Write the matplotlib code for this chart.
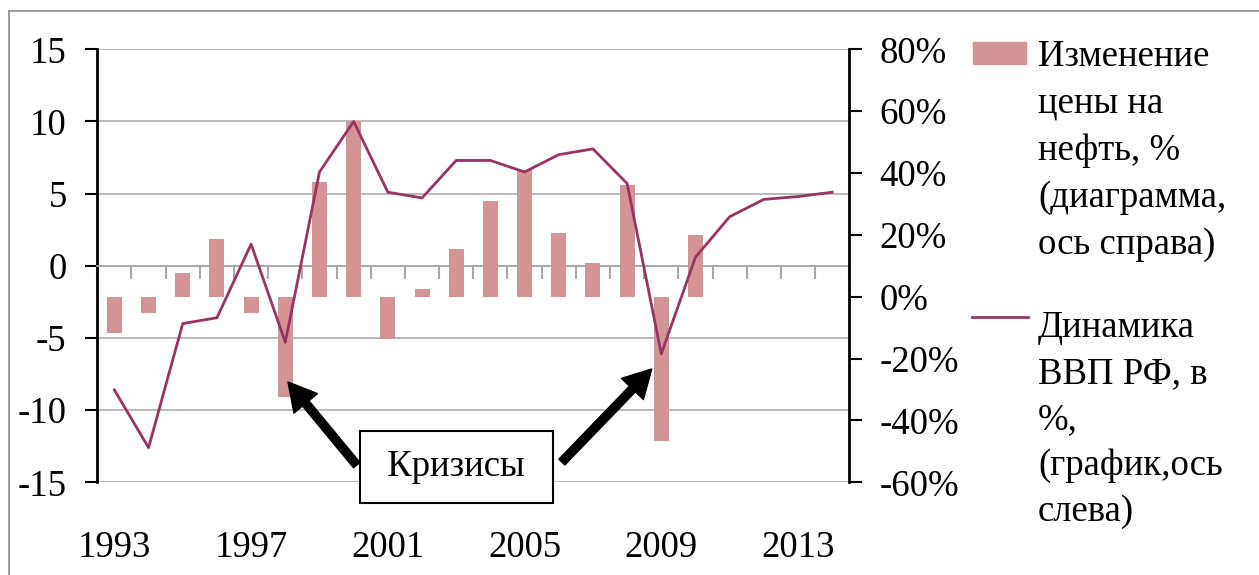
import numpy as np
import matplotlib
matplotlib.use('Agg')
import matplotlib.pyplot as plt
from matplotlib.patches import Rectangle
from matplotlib.lines import Line2D

# data
years = list(range(1993, 2015))
gdp = [-8.6, -12.6, -4.0, -3.6, 1.5, -5.3, 6.5, 10.0, 5.1, 4.7, 7.3,
       7.3, 6.5, 7.7, 8.1, 5.7, -6.1, 0.6, 3.4, 4.6, 4.8, 5.1]
# oil price change, % (1993-2010 only)
oil = [-11.8, -5.3, 7.7, 18.6, -5.3, -32.4, 37.2, 56.7, -13.6, 2.6,
       15.4, 31.0, 41.0, 20.7, 11.0, 36.1, -46.8, 20.0]
year_labels = ['1993', '1997', '2001', '2005', '2009', '2013']
left_ticks = [-15, -10, -5, 0, 5, 10, 15]
right_ticks = [-60, -40, -20, 0, 20, 40, 60, 80]
legend_oil = ['Изменение', 'цены на', 'нефть, %', '(диаграмма,', 'ось справа)']
legend_gdp = ['Динамика', 'ВВП РФ, в', '%,', '(график,ось', 'слева)']
crisis_text = 'Кризисы'

bar_color = '#D29494'
line_color = '#993366'
grid_color = '#A8A8A8'

plt.rcParams['font.family'] = ['Liberation Serif', 'DejaVu Serif']
plt.rcParams['axes.unicode_minus'] = False
plt.rcParams['font.size'] = 26.5

W, H = 1259, 575
fig = plt.figure(figsize=(W / 100, H / 100), dpi=100)
pos = [97.3 / W, 1 - 482.3 / H, 752 / W, 433 / H]

ax = fig.add_axes(pos)          # grid, left axis, category axis
ax2 = ax.twinx()                # bars, right axis
ax3 = fig.add_axes(pos, sharex=ax, sharey=ax)  # line + annotations on top
ax3.set_axis_off()

x = np.arange(len(years))

# left axis
ax.set_xlim(-0.5, len(years) - 0.5)
ax.set_ylim(-15, 15)
ax.set_yticks(left_ticks)
ax.yaxis.grid(True, color=grid_color, lw=1.1)
ax.set_axisbelow(True)
ax.spines['top'].set_visible(False)
ax.spines['right'].set_visible(False)
ax.spines['left'].set_linewidth(2)
ax.spines['bottom'].set_position(('data', 0))
ax.spines['bottom'].set_color(grid_color)
ax.spines['bottom'].set_linewidth(1.3)
ax.set_xticks(np.arange(-0.5, len(years), 1))
ax.set_xticklabels([])
ax.tick_params(axis='x', length=9, width=1.5, color=grid_color, direction='out')
ax.tick_params(axis='y', length=8.6, width=1.5, pad=13.5)

# year labels at the bottom
sec = ax.secondary_xaxis('bottom')
sec.set_xticks([years.index(int(s)) for s in year_labels], year_labels)
sec.tick_params(length=0, pad=35)
sec.spines['bottom'].set_visible(False)

# bars on right axis
ax2.bar(x[:len(oil)], oil, width=0.44, color=bar_color)
ax2.set_ylim(-60, 80)
ax2.set_yticks(right_ticks, [f'{v}%' for v in right_ticks])
for s in ['top', 'left', 'bottom']:
    ax2.spines[s].set_visible(False)
ax2.spines['right'].set_linewidth(2)
ax2.tick_params(axis='y', length=9.4, width=1.5, pad=12.5)

# GDP line
ax3.plot(x, gdp, color=line_color, lw=2.0)

# crisis annotation
ax3.text(10.0, -13.95, ' ' + crisis_text + ' ', ha='center', va='center', zorder=5,
         bbox=dict(boxstyle='square,pad=0.5', fc='white', ec='black', lw=1.5))
arrow = dict(arrowstyle='simple,head_length=1.0,head_width=1.1,tail_width=0.3',
             fc='black', ec='black', mutation_scale=20, shrinkA=0, shrinkB=0)
ax3.annotate('', xy=(5.08, -8.05), xytext=(7.09, -13.81), arrowprops=arrow)
ax3.annotate('', xy=(15.72, -7.15), xytext=(13.09, -13.6), arrowprops=arrow)

# outer frame (left and top edges visible)
fig.add_artist(Line2D([9 / W, 9 / W], [0, 1 - 11 / H], color='#8C8C8C', lw=1.2,
                      transform=fig.transFigure))
fig.add_artist(Line2D([9 / W, 1], [1 - 11 / H, 1 - 11 / H], color='#8C8C8C', lw=1.2,
                      transform=fig.transFigure))

# legend
fig.add_artist(Rectangle((973 / W, 1 - 64 / H), 53 / W, 22 / H, color=bar_color,
                         transform=fig.transFigure))
fig.add_artist(Line2D([972 / W, 1028 / W], [1 - 317 / H, 1 - 317 / H],
                      color=line_color, lw=2.0, transform=fig.transFigure))
for i, t in enumerate(legend_oil):
    fig.text(1038 / W, 1 - (66 + 47 * i) / H, t, ha='left', va='baseline')
for i, t in enumerate(legend_gdp):
    fig.text(1038 / W, 1 - (337 + 46 * i) / H, t, ha='left', va='baseline')

fig.savefig('out.png', dpi=100)
